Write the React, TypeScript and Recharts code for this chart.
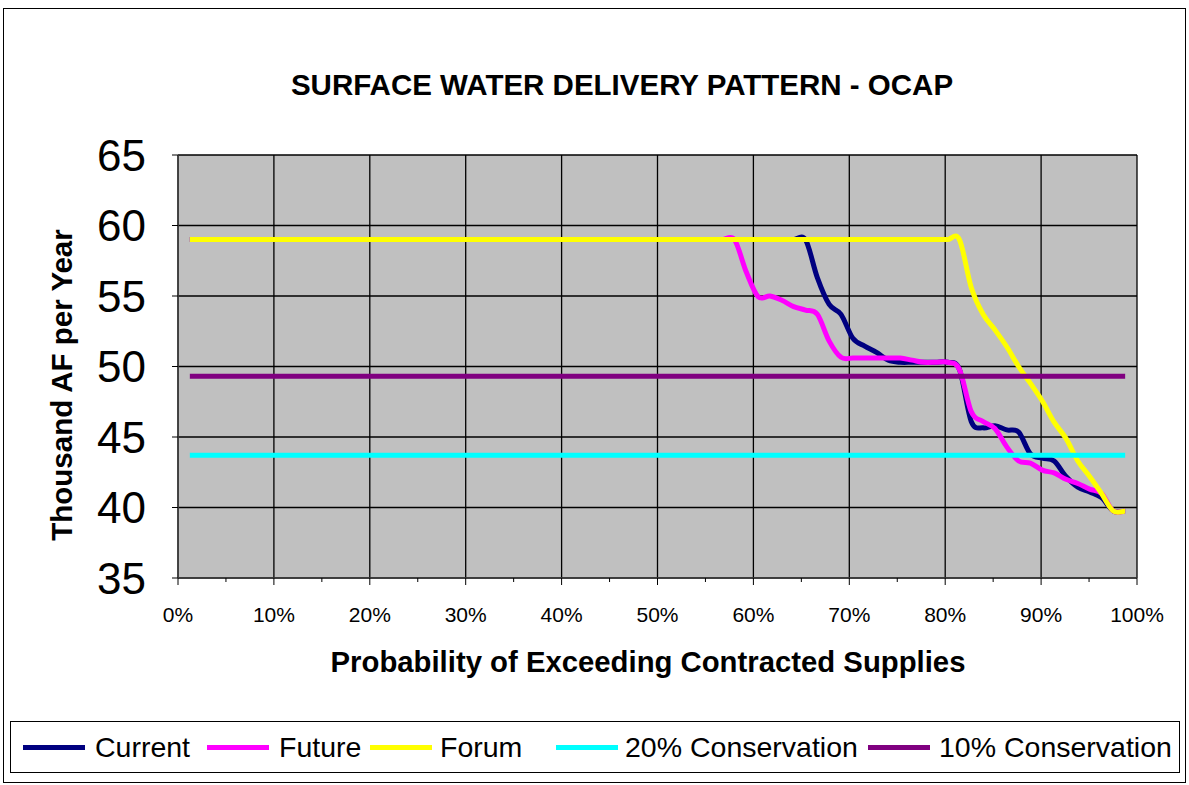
import React from "react";
import { LineChart, Line, XAxis, YAxis, CartesianGrid, Legend } from "recharts";

// 80 years of record, plotted at rank/(n+1)
const YEARS = 80;
const probability = Array.from({ length: YEARS }, (_, i) => (i + 1) / (YEARS + 1));

const current = [
  59, 59, 59, 59, 59, 59, 59, 59, 59, 59,
  59, 59, 59, 59, 59, 59, 59, 59, 59, 59,
  59, 59, 59, 59, 59, 59, 59, 59, 59, 59,
  59, 59, 59, 59, 59, 59, 59, 59, 59, 59,
  59, 59, 59, 59, 59, 59, 59, 59, 59, 59,
  59, 59, 59, 56.3, 54.4, 53.7, 52.0, 51.45, 51.0, 50.45,
  50.3, 50.3, 50.3, 50.3, 50.3, 49.8, 46.1, 45.65, 45.8, 45.5,
  45.35, 43.8, 43.5, 43.3, 42.2, 41.45, 41.1, 40.7, 39.75, 39.75,
];

const future = [
  59, 59, 59, 59, 59, 59, 59, 59, 59, 59,
  59, 59, 59, 59, 59, 59, 59, 59, 59, 59,
  59, 59, 59, 59, 59, 59, 59, 59, 59, 59,
  59, 59, 59, 59, 59, 59, 59, 59, 59, 59,
  59, 59, 59, 59, 59, 59, 59, 56.7, 54.95, 55.0,
  54.7, 54.25, 54.0, 53.7, 51.8, 50.65, 50.6, 50.6, 50.6, 50.6,
  50.6, 50.45, 50.3, 50.3, 50.3, 49.8, 46.8, 46.1, 45.6, 44.3,
  43.3, 43.15, 42.65, 42.45, 42.0, 41.7, 41.3, 41.0, 39.75, 39.75,
];

const forum = [
  59, 59, 59, 59, 59, 59, 59, 59, 59, 59,
  59, 59, 59, 59, 59, 59, 59, 59, 59, 59,
  59, 59, 59, 59, 59, 59, 59, 59, 59, 59,
  59, 59, 59, 59, 59, 59, 59, 59, 59, 59,
  59, 59, 59, 59, 59, 59, 59, 59, 59, 59,
  59, 59, 59, 59, 59, 59, 59, 59, 59, 59,
  59, 59, 59, 59, 59, 59, 55.6, 53.7, 52.6, 51.4,
  50.0, 48.8, 47.55, 46.05, 44.9, 43.3, 42.2, 41.0, 39.75, 39.75,
];

const conservation20 = [
  43.7, 43.7, 43.7, 43.7, 43.7, 43.7, 43.7, 43.7, 43.7, 43.7,
  43.7, 43.7, 43.7, 43.7, 43.7, 43.7, 43.7, 43.7, 43.7, 43.7,
  43.7, 43.7, 43.7, 43.7, 43.7, 43.7, 43.7, 43.7, 43.7, 43.7,
  43.7, 43.7, 43.7, 43.7, 43.7, 43.7, 43.7, 43.7, 43.7, 43.7,
  43.7, 43.7, 43.7, 43.7, 43.7, 43.7, 43.7, 43.7, 43.7, 43.7,
  43.7, 43.7, 43.7, 43.7, 43.7, 43.7, 43.7, 43.7, 43.7, 43.7,
  43.7, 43.7, 43.7, 43.7, 43.7, 43.7, 43.7, 43.7, 43.7, 43.7,
  43.7, 43.7, 43.7, 43.7, 43.7, 43.7, 43.7, 43.7, 43.7, 43.7,
];

const conservation10 = [
  49.3, 49.3, 49.3, 49.3, 49.3, 49.3, 49.3, 49.3, 49.3, 49.3,
  49.3, 49.3, 49.3, 49.3, 49.3, 49.3, 49.3, 49.3, 49.3, 49.3,
  49.3, 49.3, 49.3, 49.3, 49.3, 49.3, 49.3, 49.3, 49.3, 49.3,
  49.3, 49.3, 49.3, 49.3, 49.3, 49.3, 49.3, 49.3, 49.3, 49.3,
  49.3, 49.3, 49.3, 49.3, 49.3, 49.3, 49.3, 49.3, 49.3, 49.3,
  49.3, 49.3, 49.3, 49.3, 49.3, 49.3, 49.3, 49.3, 49.3, 49.3,
  49.3, 49.3, 49.3, 49.3, 49.3, 49.3, 49.3, 49.3, 49.3, 49.3,
  49.3, 49.3, 49.3, 49.3, 49.3, 49.3, 49.3, 49.3, 49.3, 49.3,
];

const xTicks = [0, 0.05, 0.1, 0.15, 0.2, 0.25, 0.3, 0.35, 0.4, 0.45, 0.5, 0.55, 0.6, 0.65, 0.7, 0.75, 0.8, 0.85, 0.9, 0.95, 1];
const xGrid = [0, 0.1, 0.2, 0.3, 0.4, 0.5, 0.6, 0.7, 0.8, 0.9, 1];
const yTicks = [35, 40, 45, 50, 55, 60, 65];

const seriesInfo = [
  { key: "current", name: "Current", color: "#000080" },
  { key: "future", name: "Future", color: "#FF00FF" },
  { key: "forum", name: "Forum", color: "#FFFF00" },
  { key: "c20", name: "20% Conservation", color: "#00FFFF" },
  { key: "c10", name: "10% Conservation", color: "#800080" },
];

const rows = probability.map((p, i) => ({
  p,
  current: current[i],
  future: future[i],
  forum: forum[i],
  c20: conservation20[i],
  c10: conservation10[i],
}));

const FONT = "'Liberation Sans', Arial, sans-serif";

// Catmull-Rom style smoothing (like Excel's smoothed line)
const smoothCurve: any = (context: any) => {
  let pts: number[][] = [];
  return {
    areaStart() {},
    areaEnd() {},
    lineStart() {
      pts = [];
    },
    point(x: number, y: number) {
      pts.push([+x, +y]);
    },
    lineEnd() {
      const n = pts.length;
      if (!n) return;
      context.moveTo(pts[0][0], pts[0][1]);
      const k = 1 / 6;
      for (let i = 0; i < n - 1; i++) {
        const p0 = pts[Math.max(0, i - 1)];
        const p1 = pts[i];
        const p2 = pts[i + 1];
        const p3 = pts[Math.min(n - 1, i + 2)];
        context.bezierCurveTo(
          p1[0] + (p2[0] - p0[0]) * k,
          p1[1] + (p2[1] - p0[1]) * k,
          p2[0] - (p3[0] - p1[0]) * k,
          p2[1] - (p3[1] - p1[1]) * k,
          p2[0],
          p2[1]
        );
      }
    },
  };
};

const XTick = (props: any) => {
  const { x, y, payload } = props;
  const pct = Math.round(payload.value * 100);
  const major = pct % 10 === 0;
  return (
    <g>
      <line x1={x} x2={x} y1={y} y2={y + (major ? 7 : 4)} stroke="#000" strokeWidth={1} />
      {major && (
        <text x={x} y={y + 44} textAnchor="middle" fontSize={21} fontFamily={FONT} fill="#000">
          {pct}%
        </text>
      )}
    </g>
  );
};

const legendLayout = [
  { line: 22, text: 94 },
  { line: 206, text: 278 },
  { line: 369, text: 439 },
  { line: 555, text: 624 },
  { line: 867, text: 938 },
];

const LegendBox = () => (
  <div
    style={{
      position: "relative",
      width: 1170,
      height: 52,
      border: "1px solid #000",
      boxSizing: "border-box",
      background: "#fff",
      fontFamily: FONT,
    }}
  >
    {seriesInfo.map((s, i) => (
      <React.Fragment key={s.key}>
        <div
          style={{
            position: "absolute",
            left: legendLayout[i].line - 10,
            top: 23,
            width: 62,
            height: 5,
            background: s.color,
          }}
        />
        <div
          style={{
            position: "absolute",
            left: legendLayout[i].text - 10,
            top: 8,
            fontSize: 28.5,
            lineHeight: "34px",
            color: "#000",
            whiteSpace: "nowrap",
          }}
        >
          {s.name}
        </div>
      </React.Fragment>
    ))}
  </div>
);

const labelStyle: React.CSSProperties = {
  position: "absolute",
  fontFamily: FONT,
  fontWeight: "bold",
  whiteSpace: "nowrap",
  color: "#000",
};

export default function App() {
  return (
    <div style={{ position: "absolute", left: 0, top: 0, width: 1189, height: 785, background: "#fff" }}>
      <div
        style={{
          position: "absolute",
          left: 3,
          top: 8,
          width: 1183,
          height: 775,
          border: "1px solid #000",
          boxSizing: "border-box",
        }}
      />
      <LineChart
        width={1189}
        height={785}
        data={rows}
        margin={{ top: 155, right: 52, bottom: 147, left: 8 }}
        style={{ position: "absolute", left: 0, top: 0 }}
      >
        <CartesianGrid
          fill="#C0C0C0"
          fillOpacity={1}
          stroke="#000"
          strokeWidth={1.3}
          verticalValues={xGrid}
          horizontalValues={yTicks}
        />
        <XAxis
          dataKey="p"
          type="number"
          domain={[0, 1]}
          ticks={xTicks}
          interval={0}
          tickSize={0}
          tickMargin={0}
          tickLine={false}
          tick={<XTick />}
          height={60}
          axisLine={{ stroke: "#404040", strokeWidth: 1.5 }}
          allowDataOverflow
        />
        <YAxis
          type="number"
          domain={[35, 65]}
          ticks={yTicks}
          interval={0}
          width={170}
          tickSize={6}
          tickMargin={26}
          tickLine={{ stroke: "#000" }}
          axisLine={{ stroke: "#404040", strokeWidth: 1.5 }}
          tick={{ fontSize: 44, fill: "#000", fontFamily: FONT }}
          allowDataOverflow
        />
        <Line dataKey="current" name="Current" stroke="#000080" strokeWidth={5} type={smoothCurve} dot={false} activeDot={false} isAnimationActive={false} />
        <Line dataKey="future" name="Future" stroke="#FF00FF" strokeWidth={5} type={smoothCurve} dot={false} activeDot={false} isAnimationActive={false} />
        <Line dataKey="forum" name="Forum" stroke="#FFFF00" strokeWidth={5} type={smoothCurve} dot={false} activeDot={false} isAnimationActive={false} />
        <Line dataKey="c20" name="20% Conservation" stroke="#00FFFF" strokeWidth={5} type="linear" dot={false} activeDot={false} isAnimationActive={false} />
        <Line dataKey="c10" name="10% Conservation" stroke="#800080" strokeWidth={5} type="linear" dot={false} activeDot={false} isAnimationActive={false} />
        <Legend
          verticalAlign="middle"
          layout="horizontal"
          content={() => <LegendBox />}
          wrapperStyle={{ position: "absolute", left: 10, top: 721, width: 1170, height: 52 }}
        />
      </LineChart>
      <div style={{ ...labelStyle, left: 622, top: 85, transform: "translate(-50%, -50%)", fontSize: 29.5 }}>
        SURFACE WATER DELIVERY PATTERN - OCAP
      </div>
      <div style={{ ...labelStyle, left: 648, top: 662, transform: "translate(-50%, -50%)", fontSize: 29.3 }}>
        Probability of Exceeding Contracted Supplies
      </div>
      <div
        style={{
          ...labelStyle,
          left: 62,
          top: 385,
          transform: "translate(-50%, -50%) rotate(-90deg)",
          fontSize: 29.5,
        }}
      >
        Thousand AF per Year
      </div>
    </div>
  );
}
